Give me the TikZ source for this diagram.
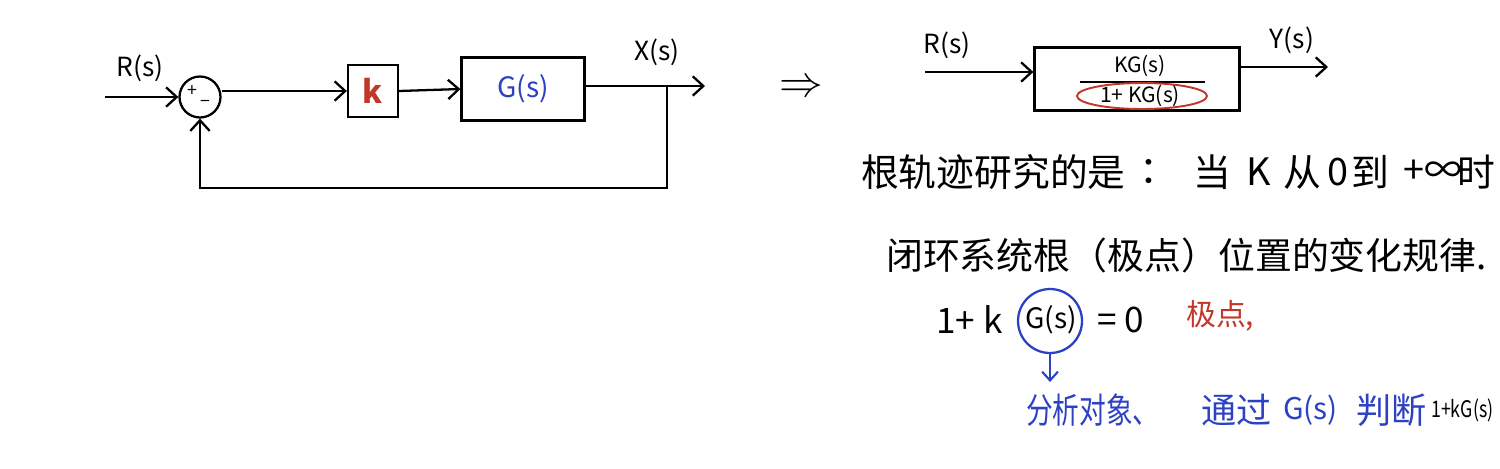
\documentclass[tikz,border=0pt]{standalone}
\usepackage{fontspec}
\setmainfont{Noto Sans CJK SC}
\usetikzlibrary{arrows.meta,shapes.geometric}
\definecolor{inkred}{RGB}{195,55,40}
\definecolor{inkblue}{RGB}{45,65,195}
\begin{document}
\begin{tikzpicture}[x=0.02cm,y=-0.02cm, line width=1.3pt,
 arr/.style={-{Straight Barb[length=6pt,width=11pt,line width=1.3pt]}},
 blk/.style={draw,inner sep=0pt},
 lbl/.style={font=\fontsize{15}{18}\selectfont,inner sep=1pt},
 txt/.style={font=\fontsize{21.5}{26}\selectfont,anchor=west,inner sep=0pt},
 btxt/.style={font=\fontsize{20}{24}\selectfont,anchor=west,inner sep=0pt,text=inkblue}]
\fill[white] (0,0) rectangle (1500,468);
\useasboundingbox (0,0) rectangle (1500,468);
% ---------- left block diagram ----------
\coordinate (rin) at (105,97);
\node[circle,draw,minimum size=0.82cm,inner sep=0pt] (sum) at (200,97) {};
\node[font=\fontsize{10}{10}\selectfont,inner sep=0pt] (plus) at (192,91) {+};
\node[font=\fontsize{10}{10}\selectfont,inner sep=0pt] (minus) at (205,104) {−};
\node[lbl] (rlab) at (140,68) {R(s)};
\node[blk,minimum width=1cm,minimum height=1.04cm,text=inkred,font=\fontsize{18}{20}\selectfont\bfseries] (kbox) at (373,91) {k};
\node[blk,minimum width=2.46cm,minimum height=1.26cm,text=inkblue,font=\fontsize{16}{20}\selectfont] (gbox) at (523,89) {G(s)};
\coordinate (out) at (705,86);
\coordinate (tap) at (667,86);
\node[lbl] (xlab) at (657,52) {X(s)};
\draw[arr] (rin) -- (sum.west);
\draw[arr] (sum.east |- kbox.west) -- (kbox.west);
\draw[arr] (kbox.east) -- (gbox.west);
\draw[arr] (gbox.east |- out) -- (out);
\draw[arr] (tap) -- (667,188) -| (sum.south);
% ---------- implies ----------
\node[font=\fontsize{38}{38}\selectfont,inner sep=0pt] (impl) at (801,88) {$\Rightarrow$};
% ---------- right block ----------
\coordinate (rin2) at (925,72);
\node[lbl] (rlab2) at (947,45) {R(s)};
\node[blk,minimum width=4.1cm,minimum height=1.26cm] (tbox) at (1137,79) {};
\node[font=\fontsize{12}{14}\selectfont,inner sep=0pt] (num) at (1140,66) {KG(s)};
\draw[line width=1.1pt] (1080,82) -- (1205,82);
\node[font=\fontsize{12}{14}\selectfont,inner sep=0pt] (den) at (1140,96) {1+ KG(s)};
\node[ellipse,draw=inkred,line width=1.1pt,minimum width=2.6cm,minimum height=0.52cm] (redell) at (1142,96) {};
\coordinate (out2) at (1328,67);
\node[lbl] (ylab) at (1292,40) {Y(s)};
\draw[arr] (rin2) -- (tbox.west |- rin2);
\draw[arr] (tbox.east |- out2) -- (out2);
% ---------- text line 1 ----------
\node[txt] (l1a) at (860,172) {根轨迹研究的是};
\node[txt] (l1b) at (1138,172) {：};
\node[txt] (l1c) at (1192,172) {当};
\node[txt] (l1d) at (1245,172) {K};
\node[txt] (l1e) at (1282,172) {从};
\node[txt] (l1f) at (1326,172) {0};
\node[txt] (l1g) at (1350,172) {到};
\node[txt] (l1h) at (1402,172) {+∞};
\node[txt] (l1i) at (1456,172) {时};
% ---------- text line 2 ----------
\node[txt,font=\fontsize{21}{24}\selectfont] (l2) at (885,255) {闭环系统根（极点）位置的变化规律.};
% ---------- line 3 ----------
\node[txt,font=\fontsize{20}{24}\selectfont] (l3a) at (935,320) {1+ k};
\node[circle,draw=inkblue,line width=1.3pt,minimum size=1.28cm] (gcirc) at (1050,321) {};
\node[font=\fontsize{16}{20}\selectfont,inner sep=0pt] (l3b) at (1051,320) {G(s)};
\node[txt,font=\fontsize{20}{24}\selectfont] (l3c) at (1096,320) {= 0};
\node[txt,text=inkred,font=\fontsize{17}{20}\selectfont] (pole) at (1185,316) {极点,};
\coordinate (arrend) at (1050,382);
\draw[inkblue,-{Straight Barb[length=5pt,width=9pt,line width=1.2pt]}] (gcirc.south) -- (arrend);
% ---------- line 4 ----------
\node[btxt] (l4a) at (1025,410) {\scalebox{0.76}[1]{分析对象、}};
\node[btxt] (l4b) at (1200,410) {通过};
\node[btxt,font=\fontsize{17}{20}\selectfont] (l4c) at (1282,410) {G(s)};
\node[btxt] (l4d) at (1355,410) {判断};
\node[btxt,font=\fontsize{13}{18}\selectfont,text=black] (l4e) at (1430,410) {\scalebox{0.78}[1]{1+kG(s)}};
\end{tikzpicture}
\end{document}
